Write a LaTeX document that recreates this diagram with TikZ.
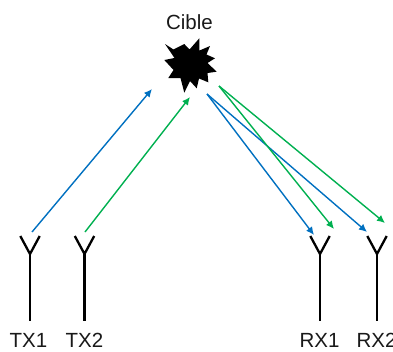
\documentclass[tikz,border=0pt]{standalone}
\usepackage{fontspec}
\setmainfont{Liberation Sans}
\usetikzlibrary{arrows.meta}
\definecolor{cblue}{RGB}{0,112,192}
\definecolor{cgreen}{RGB}{0,176,80}
\tikzset{
  x=1pt,y=-1pt,
  lab/.style={font=\fontsize{20.5}{23}\selectfont,inner sep=0pt,text=black!90},
  ant/.style={draw=black,line width=2.3pt,line join=miter},
  ray/.style={line width=1.4pt,-{Latex[length=8pt,width=7.5pt]}},
  blue ray/.style={ray,draw=cblue},
  green ray/.style={ray,draw=cgreen},
}
\begin{document}
\begin{tikzpicture}
\useasboundingbox (0,0) rectangle (393,351);
\fill[black] (165,44) -- (173.5,49.5) -- (184.3,44) -- (189.5,49.5) -- (199.3,38.3) -- (199.5,50.5) -- (210,46) -- (206.5,54.5) -- (215,58.3) -- (207.5,63) -- (216.7,71.7) -- (207.5,73) -- (208.3,82.3) -- (199,78.5) -- (196.7,88.3) -- (190,81) -- (184.3,92.7) -- (180.5,78) -- (168.3,78) -- (173.5,70) -- (164.3,60) -- (174.5,58) -- cycle;
\node[lab] (cible) at (189.5,22) {Cible};
\node[lab,anchor=base] (tx1) at (28.5,347) {TX1};
\node[lab,anchor=base] (tx2) at (84.5,347) {TX2};
\node[lab,anchor=base] (rx1) at (319.5,347) {RX1};
\node[lab,anchor=base] (rx2) at (376.5,347) {RX2};
\foreach \n/\x in {a/30,b/84.5,c/320,d/377}{
  \coordinate (\n j) at (\x,254);
  \draw[ant] (\x-9.7,236) -- (\n j) -- (\x+9.7,236);
  \draw[ant] (\n j) -- (\x,321);
}
\coordinate (s1) at (32,232); \coordinate (e1) at (152,89);
\coordinate (s2) at (85,232); \coordinate (e2) at (190,97);
\coordinate (s3) at (207,94); \coordinate (e3) at (314,235); \coordinate (e4) at (367,232);
\coordinate (s4) at (219,86); \coordinate (e5) at (334,229); \coordinate (e6) at (385,223);
\draw[blue ray] (s1) -- (e1);
\draw[green ray] (s2) -- (e2);
\draw[blue ray] (s3) -- (e3);
\draw[blue ray] (s3) -- (e4);
\draw[green ray] (s4) -- (e5);
\draw[green ray] (s4) -- (e6);
\end{tikzpicture}
\end{document}
